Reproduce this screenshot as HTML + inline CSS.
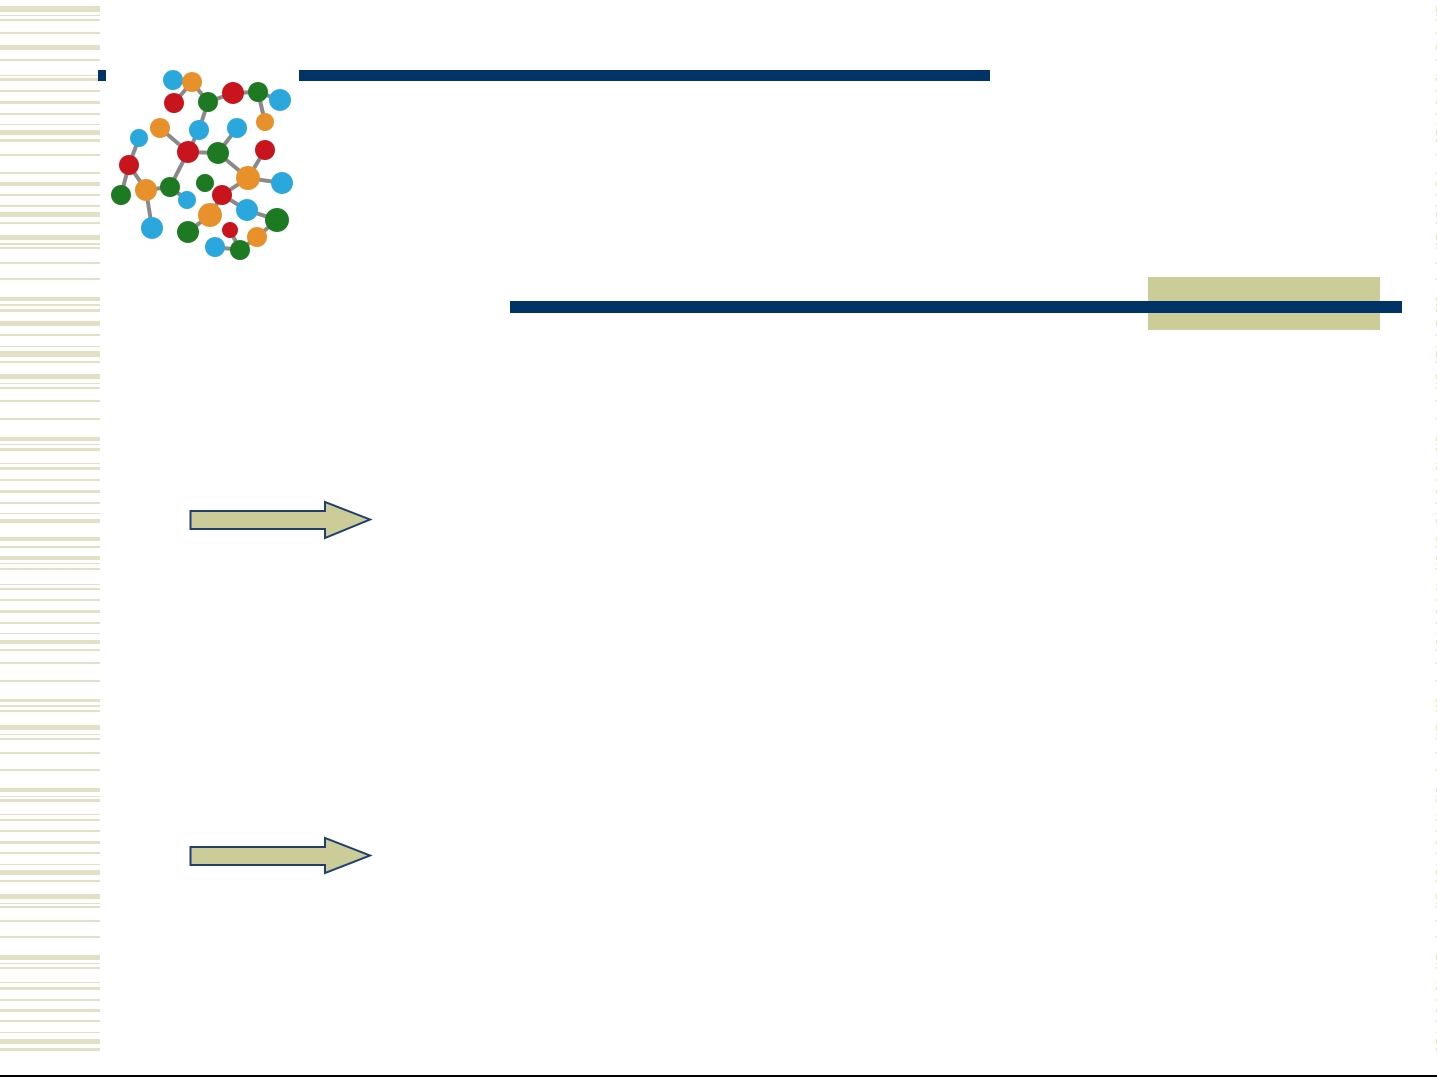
<!DOCTYPE html>
<html><head><meta charset="utf-8"><style>
html,body{margin:0;padding:0;background:#fff;}
body{width:1437px;height:1077px;position:relative;overflow:hidden;}
svg{position:absolute;left:0;top:0;}
</style></head><body>
<svg width="1437" height="1077" viewBox="0 0 1437 1077" xmlns="http://www.w3.org/2000/svg">
<g id="st" fill="#e2e0c5">
<rect x="0" y="6" width="100" height="6"/><rect x="0" y="15" width="100" height="1"/><rect x="0" y="19" width="100" height="2"/><rect x="0" y="32" width="100" height="2"/><rect x="0" y="45" width="100" height="5"/><rect x="0" y="59" width="100" height="2"/><rect x="0" y="75" width="100" height="1"/><rect x="0" y="78" width="100" height="3"/><rect x="0" y="90" width="100" height="2"/><rect x="0" y="101" width="100" height="3"/><rect x="0" y="113" width="100" height="2"/><rect x="0" y="124" width="100" height="1"/><rect x="0" y="130" width="100" height="5"/><rect x="0" y="139" width="100" height="3"/><rect x="0" y="154" width="100" height="2"/><rect x="0" y="172" width="100" height="2"/><rect x="0" y="182" width="100" height="4"/><rect x="0" y="194" width="100" height="2"/><rect x="0" y="205" width="100" height="2"/><rect x="0" y="212" width="100" height="5"/><rect x="0" y="222" width="100" height="2"/><rect x="0" y="235" width="100" height="5"/><rect x="0" y="243" width="100" height="2"/><rect x="0" y="247" width="100" height="2"/><rect x="0" y="262" width="100" height="2"/><rect x="0" y="278" width="100" height="2"/><rect x="0" y="297" width="100" height="4"/><rect x="0" y="304" width="100" height="2"/><rect x="0" y="309" width="100" height="3"/><rect x="0" y="321" width="100" height="5"/><rect x="0" y="334" width="100" height="2"/><rect x="0" y="346" width="100" height="1"/><rect x="0" y="351" width="100" height="6"/><rect x="0" y="361" width="100" height="2"/><rect x="0" y="374" width="100" height="5"/><rect x="0" y="383" width="100" height="1"/><rect x="0" y="387" width="100" height="2"/><rect x="0" y="400" width="100" height="2"/><rect x="0" y="418" width="100" height="2"/><rect x="0" y="437" width="100" height="4"/><rect x="0" y="444" width="100" height="1"/><rect x="0" y="448" width="100" height="3"/><rect x="0" y="463" width="100" height="1"/><rect x="0" y="467" width="100" height="3"/><rect x="0" y="479" width="100" height="2"/><rect x="0" y="490" width="100" height="3"/><rect x="0" y="502" width="100" height="2"/><rect x="0" y="513" width="100" height="1"/><rect x="0" y="519" width="100" height="4"/><rect x="0" y="537" width="100" height="4"/><rect x="0" y="546" width="100" height="2"/><rect x="0" y="556" width="100" height="4"/><rect x="0" y="563" width="100" height="1"/><rect x="0" y="568" width="100" height="2"/><rect x="0" y="584" width="100" height="1"/><rect x="0" y="588" width="100" height="2"/><rect x="0" y="599" width="100" height="2"/><rect x="0" y="610" width="100" height="3"/><rect x="0" y="622" width="100" height="2"/><rect x="0" y="633" width="100" height="1"/><rect x="0" y="640" width="100" height="4"/><rect x="0" y="649" width="100" height="2"/><rect x="0" y="662" width="100" height="2"/><rect x="0" y="680" width="100" height="2"/><rect x="0" y="699" width="100" height="3"/><rect x="0" y="705" width="100" height="2"/><rect x="0" y="710" width="100" height="2"/><rect x="0" y="725" width="100" height="5"/><rect x="0" y="734" width="100" height="1"/><rect x="0" y="738" width="100" height="2"/><rect x="0" y="752" width="100" height="2"/><rect x="0" y="769" width="100" height="2"/><rect x="0" y="788" width="100" height="4"/><rect x="0" y="796" width="100" height="1"/><rect x="0" y="799" width="100" height="3"/><rect x="0" y="814" width="100" height="1"/><rect x="0" y="819" width="100" height="2"/><rect x="0" y="830" width="100" height="2"/><rect x="0" y="841" width="100" height="3"/><rect x="0" y="852" width="100" height="2"/><rect x="0" y="864" width="100" height="1"/><rect x="0" y="870" width="100" height="5"/><rect x="0" y="880" width="100" height="2"/><rect x="0" y="894" width="100" height="5"/><rect x="0" y="903" width="100" height="1"/><rect x="0" y="906" width="100" height="2"/><rect x="0" y="920" width="100" height="2"/><rect x="0" y="936" width="100" height="2"/><rect x="0" y="955" width="100" height="5"/><rect x="0" y="963" width="100" height="1"/><rect x="0" y="967" width="100" height="2"/><rect x="0" y="982" width="100" height="1"/><rect x="0" y="987" width="100" height="3"/><rect x="0" y="999" width="100" height="2"/><rect x="0" y="1009" width="100" height="3"/><rect x="0" y="1020" width="100" height="2"/><rect x="0" y="1032" width="100" height="1"/><rect x="0" y="1039" width="100" height="5"/><rect x="0" y="1048" width="100" height="3"/>
</g>
<use href="#st" transform="translate(1436,0) scale(0.01,1)"/>
<rect x="0" y="1075" width="1437" height="2" fill="#000"/>

<rect x="98" y="70" width="8" height="11" fill="#003366"/>
<rect x="299" y="70" width="691" height="11" fill="#003366"/>
<rect x="1148" y="277" width="232" height="53" fill="#cccc99"/>
<rect x="510" y="301" width="892" height="12" fill="#003366"/>

<polygon points="190.5,511 325,511 325,502 370,519.5 325,538 325,529 190.5,529" fill="#cccc99" stroke="#1f3f6f" stroke-width="2"/>
<polygon points="190.5,847 325,847 325,838 370,855.5 325,873 325,865 190.5,865" fill="#cccc99" stroke="#1f3f6f" stroke-width="2"/>

<g stroke="#8a8a8a" stroke-width="4">
<line x1="173" y1="80" x2="192" y2="82"/><line x1="192" y1="82" x2="174" y2="103"/><line x1="192" y1="82" x2="208" y2="102"/><line x1="208" y1="102" x2="233" y2="93"/><line x1="233" y1="93" x2="258" y2="92"/><line x1="258" y1="92" x2="280" y2="100"/><line x1="258" y1="92" x2="265" y2="122"/><line x1="208" y1="102" x2="199" y2="130"/><line x1="199" y1="130" x2="188" y2="152"/><line x1="160" y1="128" x2="188" y2="152"/><line x1="188" y1="152" x2="218" y2="153"/><line x1="218" y1="153" x2="237" y2="128"/><line x1="218" y1="153" x2="248" y2="178"/><line x1="248" y1="178" x2="265" y2="150"/><line x1="248" y1="178" x2="282" y2="183"/><line x1="248" y1="178" x2="222" y2="195"/><line x1="188" y1="152" x2="170" y2="187"/><line x1="170" y1="187" x2="187" y2="200"/><line x1="170" y1="187" x2="146" y2="190"/><line x1="146" y1="190" x2="129" y2="165"/><line x1="129" y1="165" x2="139" y2="138"/><line x1="129" y1="165" x2="121" y2="195"/><line x1="146" y1="190" x2="152" y2="228"/><line x1="222" y1="195" x2="210" y2="215"/><line x1="222" y1="195" x2="247" y2="210"/><line x1="247" y1="210" x2="277" y2="220"/><line x1="210" y1="215" x2="188" y2="232"/><line x1="230" y1="230" x2="240" y2="250"/><line x1="240" y1="250" x2="257" y2="237"/><line x1="240" y1="250" x2="215" y2="247"/><line x1="257" y1="237" x2="277" y2="220"/>
</g>
<g>
<circle cx="173" cy="80" r="10" fill="#2aa8de"/><circle cx="192" cy="82" r="10" fill="#e8902a"/><circle cx="174" cy="103" r="10" fill="#c8141c"/><circle cx="208" cy="102" r="10" fill="#1d7a22"/><circle cx="233" cy="93" r="11" fill="#c8141c"/><circle cx="258" cy="92" r="10" fill="#1d7a22"/><circle cx="280" cy="100" r="11" fill="#2aa8de"/><circle cx="265" cy="122" r="9" fill="#e8902a"/><circle cx="160" cy="128" r="10" fill="#e8902a"/><circle cx="199" cy="130" r="10" fill="#2aa8de"/><circle cx="237" cy="128" r="10" fill="#2aa8de"/><circle cx="139" cy="138" r="9" fill="#2aa8de"/><circle cx="188" cy="152" r="11" fill="#c8141c"/><circle cx="218" cy="153" r="11" fill="#1d7a22"/><circle cx="265" cy="150" r="10" fill="#c8141c"/><circle cx="129" cy="165" r="10" fill="#c8141c"/><circle cx="248" cy="178" r="12" fill="#e8902a"/><circle cx="282" cy="183" r="11" fill="#2aa8de"/><circle cx="205" cy="183" r="9" fill="#1d7a22"/><circle cx="170" cy="187" r="10" fill="#1d7a22"/><circle cx="146" cy="190" r="11" fill="#e8902a"/><circle cx="121" cy="195" r="10" fill="#1d7a22"/><circle cx="222" cy="195" r="10" fill="#c8141c"/><circle cx="187" cy="200" r="9" fill="#2aa8de"/><circle cx="247" cy="210" r="11" fill="#2aa8de"/><circle cx="277" cy="220" r="12" fill="#1d7a22"/><circle cx="210" cy="215" r="12" fill="#e8902a"/><circle cx="152" cy="228" r="11" fill="#2aa8de"/><circle cx="188" cy="232" r="11" fill="#1d7a22"/><circle cx="230" cy="230" r="8" fill="#c8141c"/><circle cx="257" cy="237" r="10" fill="#e8902a"/><circle cx="215" cy="247" r="10" fill="#2aa8de"/><circle cx="240" cy="250" r="10" fill="#1d7a22"/>
</g>
</svg>
</body></html>
